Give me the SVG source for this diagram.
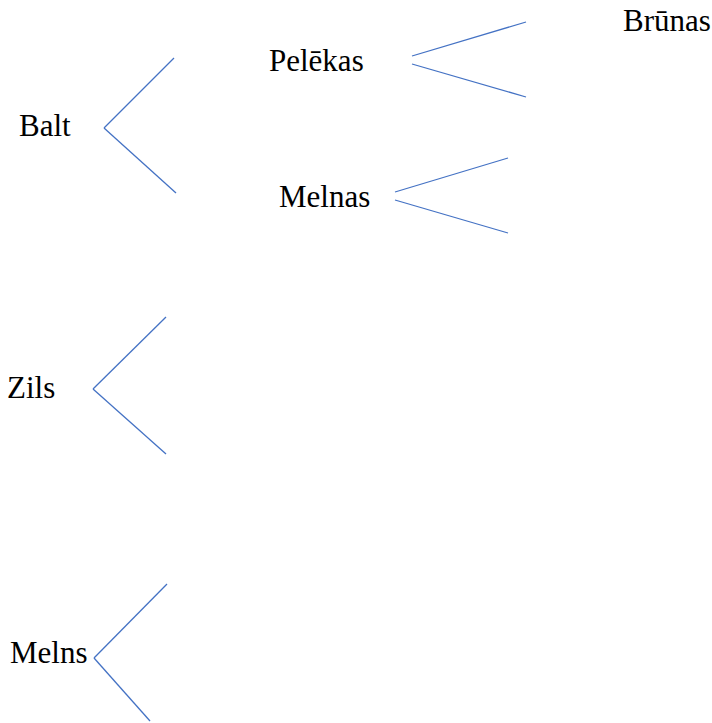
<svg xmlns="http://www.w3.org/2000/svg" width="712" height="723" viewBox="0 0 712 723">
<style>
text { font-family: "Liberation Serif", "Times New Roman", serif; font-size: 31px; fill: #000; }
.c line { stroke: #4472C4; stroke-width: 1.3; fill: none; }
</style>
<rect width="712" height="723" fill="#fff"/>
<g id="connectors" class="c">
<line x1="104" y1="128" x2="174" y2="58"/>
<line x1="104" y1="128" x2="176" y2="193"/>
<line x1="412" y1="56" x2="526" y2="22"/>
<line x1="412" y1="64" x2="526" y2="97"/>
<line x1="395" y1="192" x2="508" y2="158"/>
<line x1="395" y1="200" x2="508" y2="233"/>
<line x1="93" y1="389" x2="166" y2="317"/>
<line x1="93" y1="389" x2="166" y2="454"/>
<line x1="94" y1="658" x2="167" y2="584"/>
<line x1="94" y1="658" x2="150" y2="721"/>
</g>
<g id="n-balt"><text x="19" y="136">Balt</text></g>
<g id="n-pelekas"><text x="269" y="71">Pelēkas</text></g>
<g id="n-melnas"><text x="279" y="207">Melnas</text></g>
<g id="n-brunas"><text x="623" y="31">Brūnas</text></g>
<g id="n-zils"><text x="7" y="398">Zils</text></g>
<g id="n-melns"><text x="10" y="663">Melns</text></g>
</svg>
